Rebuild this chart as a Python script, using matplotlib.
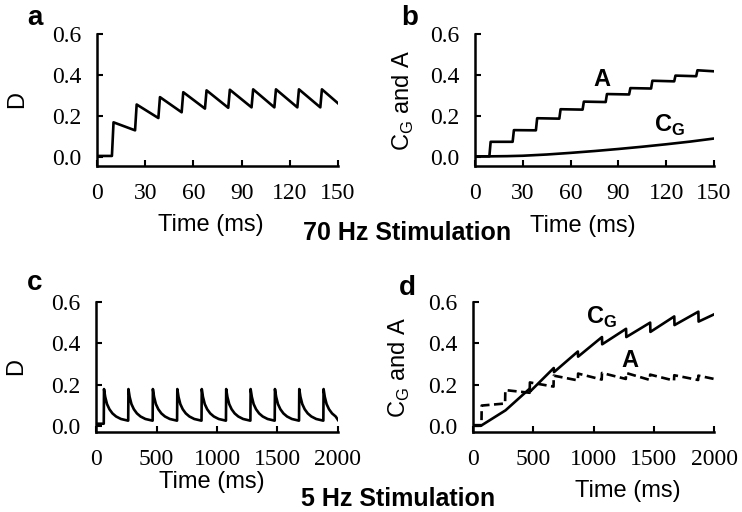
import matplotlib
matplotlib.use("Agg")
import matplotlib.pyplot as plt

# ---- data ----
# panel a: D at 70 Hz (vertices of the trace)
a_t = [0, 9.3, 10.3, 23.7, 24.7, 38.2, 39.2, 52.7, 53.7, 67.2, 68.2, 81.7, 82.7,
       96.2, 97.2, 110.4, 111.4, 124.7, 125.7, 139.0, 140.0, 150]
a_D = [0.005, 0.005, 0.169, 0.13, 0.256, 0.19, 0.292, 0.218, 0.316, 0.236, 0.325,
       0.24, 0.328, 0.242, 0.33, 0.242, 0.33, 0.242, 0.33, 0.242, 0.33, 0.262]

# panel b: A and C_G at 70 Hz
b_t_A = [0, 9.0, 9.8, 23.6, 24.4, 38.2, 39.0, 52.9, 53.7, 67.5, 68.3, 82.0, 82.8,
         96.7, 97.5, 110.5, 111.3, 125.0, 125.8, 138.8, 139.6, 150]
b_A = [0.003, 0.003, 0.074, 0.074, 0.131, 0.13, 0.189, 0.187, 0.233, 0.231, 0.27,
       0.268, 0.307, 0.305, 0.336, 0.334, 0.372, 0.369, 0.397, 0.394, 0.423, 0.418]
b_t_CG = [0, 9, 20, 30, 45, 60, 75, 90, 105, 120, 135, 150]
b_CG = [0.003, 0.003, 0.004, 0.006, 0.012, 0.02, 0.029, 0.039, 0.05, 0.062, 0.075, 0.09]

# panel c: D at 5 Hz (one spike + decay per pulse)
c_t = [0, 64, 66, 76, 91, 111, 136, 166, 206, 264,
       266, 268, 278, 293, 313, 338, 368, 408, 466,
       468, 470, 480, 495, 515, 540, 570, 610, 668,
       670, 672, 682, 697, 717, 742, 772, 812, 870,
       872, 874, 884, 899, 919, 944, 974, 1014, 1072,
       1074, 1076, 1086, 1101, 1121, 1146, 1176, 1216, 1274,
       1276, 1278, 1288, 1303, 1323, 1348, 1378, 1418, 1475,
       1477, 1479, 1489, 1504, 1524, 1549, 1579, 1619, 1676,
       1678, 1680, 1690, 1705, 1725, 1750, 1780, 1820, 1877,
       1879, 1881, 1891, 1906, 1926, 1951, 1981, 2000]
c_D = [0.01, 0.01, 0.178, 0.14, 0.105, 0.08, 0.06, 0.045, 0.033, 0.025,
       0.025, 0.178, 0.14, 0.105, 0.08, 0.06, 0.045, 0.033, 0.025,
       0.025, 0.178, 0.14, 0.105, 0.08, 0.06, 0.045, 0.033, 0.025,
       0.025, 0.178, 0.14, 0.105, 0.08, 0.06, 0.045, 0.033, 0.025,
       0.025, 0.178, 0.14, 0.105, 0.08, 0.06, 0.045, 0.033, 0.025,
       0.025, 0.178, 0.14, 0.105, 0.08, 0.06, 0.045, 0.033, 0.025,
       0.025, 0.178, 0.14, 0.105, 0.08, 0.06, 0.045, 0.033, 0.025,
       0.025, 0.178, 0.14, 0.105, 0.08, 0.06, 0.045, 0.033, 0.025,
       0.025, 0.178, 0.14, 0.105, 0.08, 0.06, 0.045, 0.033, 0.025,
       0.025, 0.178, 0.14, 0.105, 0.08, 0.06, 0.045, 0.028]

# panel d: C_G (solid) and A (dashed) at 5 Hz
d_t_CG = [0, 65, 270, 470, 472, 670, 672, 870, 872, 1070, 1072, 1270, 1272,
          1470, 1472, 1670, 1672, 1870, 1872, 2000]
d_CG = [0.0, 0.0, 0.075, 0.18, 0.165, 0.28, 0.26, 0.36, 0.335, 0.43, 0.395,
        0.47, 0.43, 0.5, 0.455, 0.53, 0.488, 0.553, 0.505, 0.54]
d_t_A = [0, 70, 72, 266, 268, 470, 472, 668, 670, 870, 872, 1068, 1070, 1268, 1270,
         1468, 1470, 1668, 1670, 1868, 1870, 2000]
d_A = [0.003, 0.003, 0.098, 0.108, 0.173, 0.16, 0.21, 0.19, 0.243, 0.22, 0.253,
       0.224, 0.256, 0.227, 0.256, 0.222, 0.248, 0.219, 0.245, 0.222, 0.243, 0.227]

yticks = [0.0, 0.2, 0.4, 0.6]
xticks_70 = [0, 30, 60, 90, 120, 150]
xticks_5 = [0, 500, 1000, 1500, 2000]

plt.rcParams["mathtext.fontset"] = "custom"
plt.rcParams["mathtext.rm"] = "Liberation Sans"
plt.rcParams["mathtext.bf"] = "Liberation Sans:bold"

SERIF = "Liberation Serif"
SANS = "Liberation Sans"
LW = 1.9


def style_axes(ax, xticks, xmax, ymin):
    for s in ("top", "right"):
        ax.spines[s].set_visible(False)
    for s in ("left", "bottom"):
        ax.spines[s].set_linewidth(1.8)
    ax.set_xlim(0, xmax)
    ax.set_ylim(ymin, 0.6)
    ax.set_xticks(xticks)
    ax.set_yticks(yticks)
    ax.set_yticklabels([f"{v:.1f}" for v in yticks])
    ax.tick_params(direction="in", length=4.5, width=1.5, pad=11,
                   labelsize=17)
    ax.tick_params(axis="x", pad=12)
    for lab in ax.get_xticklabels() + ax.get_yticklabels():
        lab.set_fontfamily(SERIF)


fig = plt.figure(figsize=(7.42, 5.12), dpi=100)
ax_a = fig.add_axes([0.1307, 0.6758, 0.3248, 0.2578])
ax_b = fig.add_axes([0.6402, 0.6758, 0.3221, 0.2578])
ax_c = fig.add_axes([0.1294, 0.1563, 0.3261, 0.2539])
ax_d = fig.add_axes([0.6375, 0.1563, 0.3248, 0.2539])

# a
ax_a.plot(a_t, a_D, color="black", lw=LW)
style_axes(ax_a, xticks_70, 150, -0.044)
ax_a.set_ylabel("D", fontfamily=SANS, fontsize=17)
ax_a.yaxis.set_label_coords(-0.285, 0.5)

# b
ax_b.plot(b_t_A, b_A, color="black", lw=LW)
ax_b.plot(b_t_CG, b_CG, color="black", lw=LW)
style_axes(ax_b, xticks_70, 150, -0.044)
ax_b.set_ylabel(r"C$_{\mathregular{G}}$ and A", fontfamily=SANS, fontsize=17)
ax_b.yaxis.set_label_coords(-0.247, 0.5)
ax_b.text(74.5, 0.346, "A", fontfamily=SANS, fontweight="bold", fontsize=17)
ax_b.text(112.3, 0.122, r"C$_{\mathbf{G}}$", fontfamily=SANS, fontweight="bold",
          fontsize=17)

# c
ax_c.plot(c_t, c_D, color="black", lw=LW)
style_axes(ax_c, xticks_5, 2000, -0.03)
ax_c.set_ylabel("D", fontfamily=SANS, fontsize=17)
ax_c.yaxis.set_label_coords(-0.285, 0.5)

# d
ax_d.plot(d_t_CG, d_CG, color="black", lw=LW)
ax_d.plot(d_t_A, d_A, color="black", lw=LW, dashes=(3.4, 1.7))
style_axes(ax_d, xticks_5, 2000, -0.03)
ax_d.set_ylabel(r"C$_{\mathregular{G}}$ and A", fontfamily=SANS, fontsize=17)
ax_d.yaxis.set_label_coords(-0.255, 0.5)
ax_d.text(1228, 0.285, "A", fontfamily=SANS, fontweight="bold", fontsize=17)
ax_d.text(940, 0.494, r"C$_{\mathbf{G}}$", fontfamily=SANS, fontweight="bold",
          fontsize=17)

# x labels
for ax, (lx, ly) in [(ax_a, (0.473, -0.36)), (ax_b, (0.45, -0.375)),
                     (ax_c, (0.48, -0.3)), (ax_d, (0.643, -0.372))]:
    ax.set_xlabel("Time (ms)", fontfamily=SANS, fontsize=17)
    ax.xaxis.set_label_coords(lx, ly)

# panel letters and section titles
for letter, x, y in [("a", 0.0465, 0.951), ("b", 0.5526, 0.951),
                     ("c", 0.047, 0.4336), ("d", 0.5485, 0.4238)]:
    fig.text(x, y, letter, ha="center", va="baseline", fontfamily=SANS,
             fontweight="bold", fontsize=20)

fig.text(0.548, 0.531, "70 Hz Stimulation", ha="center", va="baseline",
         fontfamily=SANS, fontweight="bold", fontsize=18)
fig.text(0.537, 0.012, "5 Hz Stimulation", ha="center", va="baseline",
         fontfamily=SANS, fontweight="bold", fontsize=18)

fig.savefig("out.png", dpi=100)
